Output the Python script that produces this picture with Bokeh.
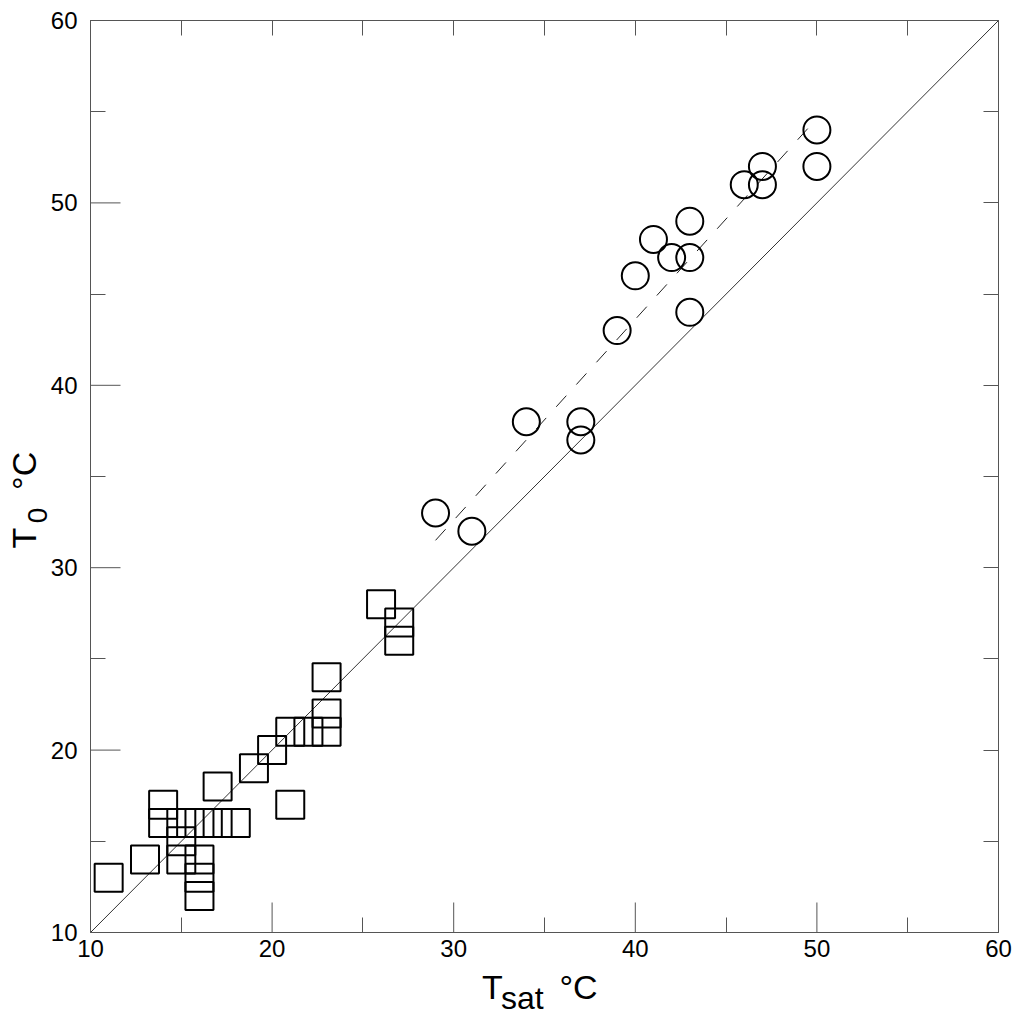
from bokeh.plotting import figure
from bokeh.models import Range1d, FixedTicker, LinearAxis
from bokeh.embed import file_html
from bokeh.resources import INLINE

# ---- data ----
sq_x = [11, 13, 14, 14, 15, 15, 15, 16, 16, 16, 16, 17, 17, 18, 19, 20, 21, 21, 22, 23, 23, 23, 26, 27, 27]
sq_y = [13, 14, 17, 16, 16, 15, 14, 16, 14, 13, 12, 16, 18, 16, 19, 20, 17, 21, 21, 21, 22, 24, 28, 27, 26]
ci_x = [29, 31, 34, 37, 37, 39, 40, 41, 42, 43, 43, 43, 46, 47, 47, 50, 50]
ci_y = [33, 32, 38, 38, 37, 43, 46, 48, 47, 49, 47, 44, 51, 52, 51, 54, 52]
fit_x = [29.0, 49.7]
fit_y = [31.5, 54.3]
one_x = [10, 60]
one_y = [10, 60]
major_ticks = [10, 20, 30, 40, 50, 60]
minor_ticks = [15, 25, 35, 45, 55]

NB = "\u00a0"
x_title_main = "T" + NB * 6 + "°C" + NB
x_title_sub = "sat" + NB * 5
y_title_main = "T" + NB * 4 + "°C" + NB * 5
y_title_sub = "0" + NB * 10

# ---- layout ----
FW, FH = 908, 912
p = figure(x_range=Range1d(10, 60), y_range=Range1d(10, 60),
           frame_width=FW, frame_height=FH,
           min_border_left=90, min_border_right=22, min_border_top=20, min_border_bottom=94,
           output_backend="svg", toolbar_location=None,
           background_fill_color="white", border_fill_color="white")
p.grid.visible = False
p.outline_line_color = "#555555"
p.outline_line_width = 1

AX = "#555555"
def style_axis(ax, maj_in, min_in, labels=True):
    ax.ticker = FixedTicker(ticks=major_ticks, minor_ticks=minor_ticks)
    ax.axis_line_color = AX
    ax.axis_line_width = 1
    ax.major_tick_line_color = AX
    ax.minor_tick_line_color = AX
    ax.major_tick_line_width = 1
    ax.minor_tick_line_width = 1
    ax.major_tick_in = maj_in
    ax.major_tick_out = 0
    ax.minor_tick_in = min_in
    ax.minor_tick_out = 0
    if labels:
        ax.major_label_text_font = "Liberation Sans"
        ax.major_label_text_font_size = "24px"
        ax.major_label_text_color = "black"
    else:
        ax.major_label_text_color = None
        ax.major_label_text_font_size = "0px"
        ax.major_label_standoff = 0

def title_style(ax, text, size, standoff):
    ax.axis_label = text
    ax.axis_label_text_font = "Liberation Sans"
    ax.axis_label_text_font_size = size
    ax.axis_label_text_font_style = "normal"
    ax.axis_label_text_color = "black"
    ax.axis_label_standoff = standoff

xa = p.xaxis[0]
ya = p.yaxis[0]
style_axis(xa, 0, 15)
style_axis(ya, 0, 15)
xa.major_label_standoff = 7
ya.major_label_standoff = 13
title_style(xa, x_title_main, "34px", 8)
title_style(ya, y_title_sub, "28px", -5)

def bare_axis():
    ax = LinearAxis(ticker=FixedTicker(ticks=[]))
    ax.axis_line_color = None
    ax.major_tick_line_color = None
    ax.minor_tick_line_color = None
    ax.major_label_text_font_size = "0px"
    ax.major_label_standoff = 0
    return ax

xsub = bare_axis()
title_style(xsub, x_title_sub, "32px", -29)
p.add_layout(xsub, "below")

ymain = bare_axis()
title_style(ymain, y_title_main, "34px", -24)
p.add_layout(ymain, "left")

top = LinearAxis()
right = LinearAxis()
style_axis(top, 15, 15, labels=False)
style_axis(right, 15, 15, labels=False)
p.add_layout(top, "above")
p.add_layout(right, "right")

# long inward major ticks on bottom and left (30 px)
LONG = 30
ty = LONG * 50.0 / FH
tx = LONG * 50.0 / FW
p.segment(x0=major_ticks, y0=[10] * len(major_ticks), x1=major_ticks,
          y1=[10 + ty] * len(major_ticks), line_color=AX, line_width=1)
p.segment(x0=[10] * len(major_ticks), y0=major_ticks, x1=[10 + tx] * len(major_ticks),
          y1=major_ticks, line_color=AX, line_width=1)

# ---- lines ----
p.line(one_x, one_y, line_color="#333333", line_width=1)
p.line(fit_x, fit_y, line_color="#222222", line_width=1, line_dash="15 15")

# ---- markers ----
p.scatter(sq_x, sq_y, marker="square", size=28, fill_color=None,
          line_color="black", line_width=2)
p.scatter(ci_x, ci_y, marker="circle", size=27, fill_color=None,
          line_color="black", line_width=2)

open("out.html", "w").write(file_html(p, INLINE))
